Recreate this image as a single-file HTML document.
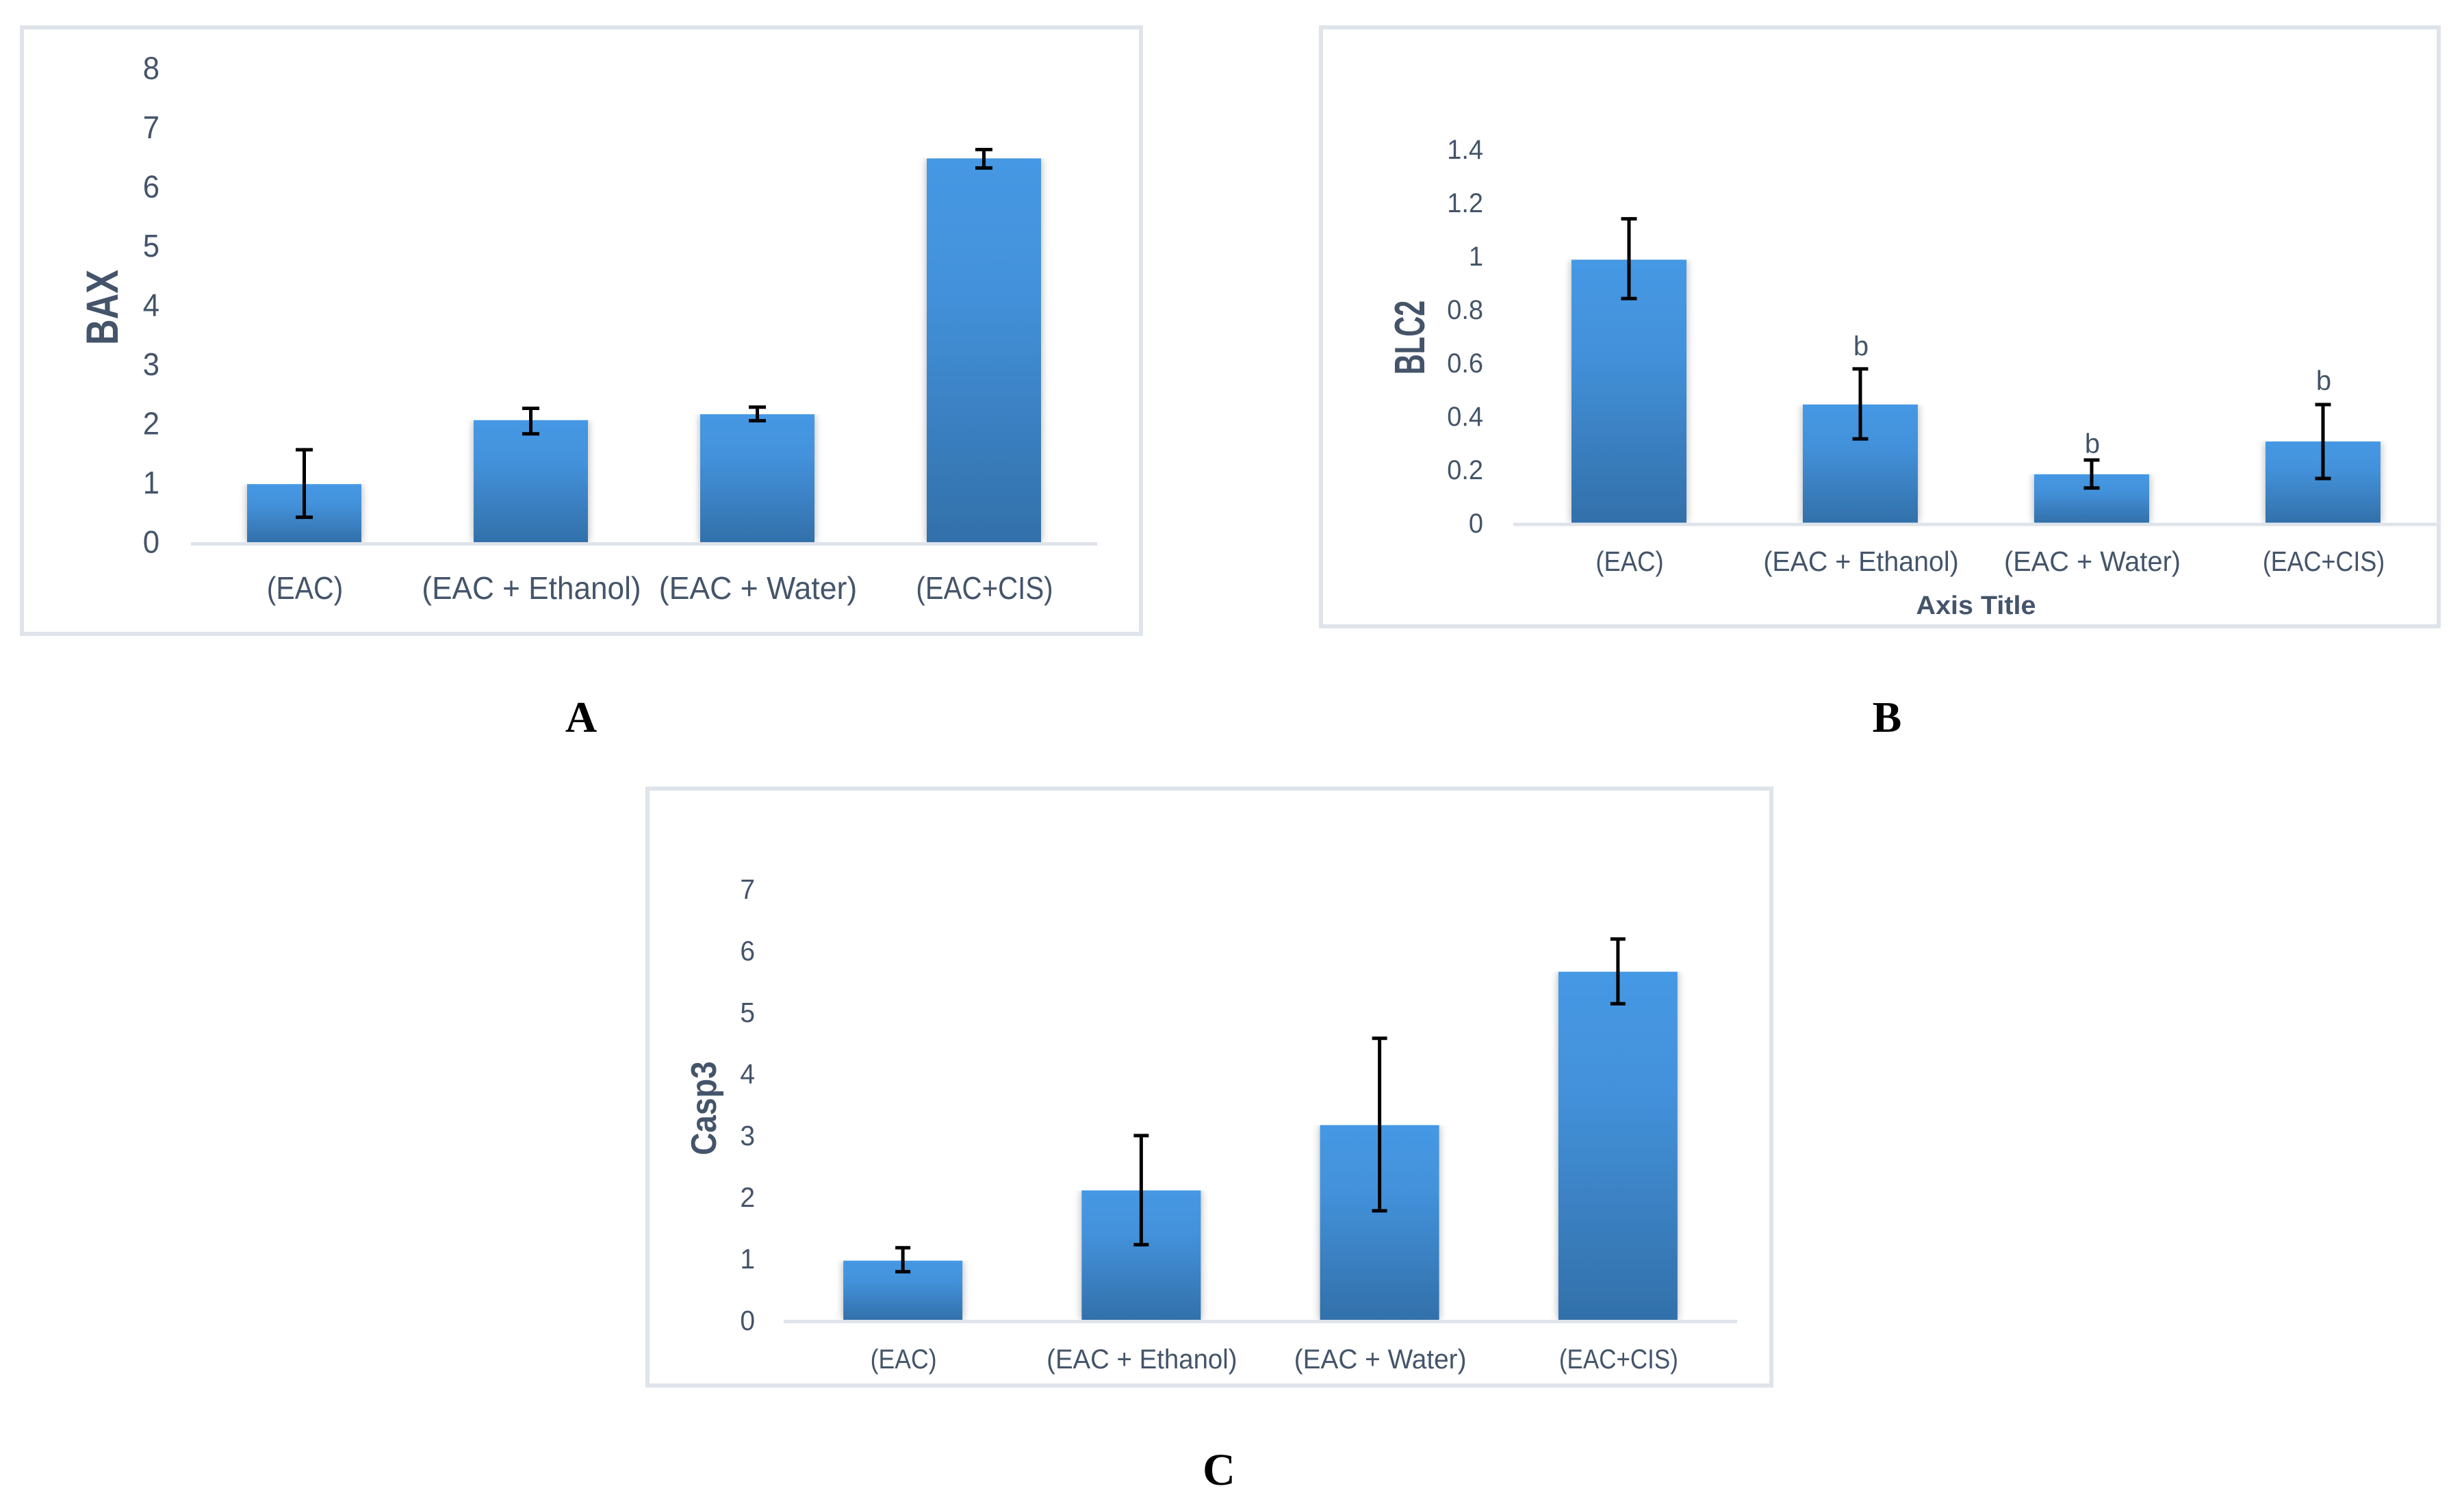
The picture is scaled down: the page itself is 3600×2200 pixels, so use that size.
<!DOCTYPE html>
<html lang="en">
<head>
<meta charset="utf-8">
<title>BAX, BLC2 and Casp3 bar charts</title>
<style>
html,body{margin:0;padding:0;background:#fff;}
body{width:3600px;height:2200px;overflow:hidden;}
svg{display:block;}
text{font-family:"Liberation Sans",sans-serif;fill:#44546a;}
.panel-letter{font-family:"Liberation Serif",serif;font-weight:bold;fill:#000;text-anchor:middle;}
</style>
</head>
<body>
<svg id="figure" xmlns="http://www.w3.org/2000/svg" width="3600" height="2200" viewBox="0 0 3600 2200">
  <defs>
    <linearGradient id="barFill" x1="0" y1="0" x2="0" y2="1">
      <stop offset="0" stop-color="#4598e4"/>
      <stop offset="0.35" stop-color="#4391da"/>
      <stop offset="1" stop-color="#3270aa"/>
    </linearGradient>
    <filter id="barShadow" x="-20%" y="0%" width="140%" height="100%">
      <feGaussianBlur in="SourceAlpha" stdDeviation="6"/>
      <feComponentTransfer><feFuncA type="linear" slope="0.32"/></feComponentTransfer>
      <feMerge><feMergeNode/><feMergeNode in="SourceGraphic"/></feMerge>
    </filter>
  </defs>
  <text class="panel-letter" x="849" y="1069" font-size="64">A</text>
  <text class="panel-letter" x="2757" y="1069" font-size="64">B</text>
  <text class="panel-letter" x="1781" y="2169" font-size="66">C</text>
</svg>
<script>
const categories = ["(EAC)", "(EAC + Ethanol)", "(EAC + Water)", "(EAC+CIS)"];

const baxValues = [0.98, 2.06, 2.16, 6.48];
const baxErrUpper = [1.56, 2.26, 2.28, 6.63];
const baxErrLower = [0.42, 1.83, 2.05, 6.32];
const baxTicks = ["0", "1", "2", "3", "4", "5", "6", "7", "8"];

const blc2Values = [0.995, 0.447, 0.183, 0.307];
const blc2ErrUpper = [1.15, 0.582, 0.237, 0.447];
const blc2ErrLower = [0.848, 0.317, 0.131, 0.167];
const blc2Ticks = ["0", "0.2", "0.4", "0.6", "0.8", "1", "1.2", "1.4"];
const blc2Letters = ["", "b", "b", "b"];
const blc2LetterLevels = [0, 0.633, 0.264, 0.503];

const casp3Values = [0.96, 2.1, 3.16, 5.65];
const casp3ErrUpper = [1.17, 2.99, 4.57, 6.18];
const casp3ErrLower = [0.78, 1.22, 1.77, 5.13];
const casp3Ticks = ["0", "1", "2", "3", "4", "5", "6", "7"];

const NS = "http://www.w3.org/2000/svg";
const fig = document.getElementById("figure");
const labelFit = {"(EAC)": 0.89, "(EAC + Ethanol)": 0.96, "(EAC + Water)": 0.97, "(EAC+CIS)": 0.875};

function make(parent, tag, attrs, content) {
  const el = document.createElementNS(NS, tag);
  for (const k in attrs) el.setAttribute(k, attrs[k]);
  if (content !== undefined) el.textContent = content;
  parent.appendChild(el);
  return el;
}

function drawChart(c) {
  const group = make(fig, "g", {});
  
  

  const frame = make(group, "rect", {x: c.frame[0], y: c.frame[1], width: c.frame[2] - c.frame[0], height: c.frame[3] - c.frame[1], fill: "#fff", stroke: "#dfe3ea", "stroke-width": 6});
  
  

  const yScale = v => c.base - v * c.unit;
  const tickScale = v => c.base - v * c.tickUnit;
  const band = (c.axisEnd - c.axisStart) / c.categories.length;
  const xScale = i => c.axisStart + band * (i + 0.5);

  c.ticks.forEach(t => {
    const label = make(group, "text", {"text-anchor": "end", transform: "translate(" + c.tickRight + "," + (tickScale(parseFloat(t)) + c.tickOffset + c.tickFont * 0.36) + ") scale(0.95,1)", "font-size": c.tickFont}, t);
    
    
  });

  c.values.forEach((v, i) => {
    const bar = make(group, "rect", {x: xScale(i) - c.barWidth / 2, y: yScale(v), width: c.barWidth, height: c.base - yScale(v), fill: "url(#barFill)", filter: "url(#barShadow)"});
    
    
  });

  const axis = make(group, "rect", {x: c.axisStart, y: c.base, width: c.axisEnd - c.axisStart, height: 5, fill: "#dfe3ea"});
  
  

  c.values.forEach((v, i) => {
    const x = xScale(i);
    const hi = yScale(c.errUpper[i]);
    const lo = yScale(c.errLower[i]);
    const d = "M" + x + " " + hi + "V" + lo + "M" + (x - c.cap / 2) + " " + hi + "H" + (x + c.cap / 2) + "M" + (x - c.cap / 2) + " " + lo + "H" + (x + c.cap / 2);
    const err = make(group, "path", {d: d, stroke: "#000", "stroke-width": 5, fill: "none"});
    
    
  });

  c.categories.forEach((name, i) => {
    const label = make(group, "text", {"text-anchor": "middle", transform: "translate(" + (xScale(i) + 1) + "," + c.catBaseline + ") scale(" + labelFit[name] + ",1)", "font-size": c.catFont}, name);
    
    
  });

  if (c.letters) {
    c.letters.forEach((letter, i) => {
      if (!letter) return;
      const mark = make(group, "text", {"text-anchor": "middle", x: xScale(i) + 1, y: yScale(c.letterLevels[i]), "font-size": 40}, letter);
      
      
    });
  }

  const title = make(group, "text", {"text-anchor": "middle", "font-weight": "bold", transform: "translate(" + c.titleX + "," + c.titleY + ") rotate(-90) scale(" + c.titleFit + ",1)", "font-size": c.titleFont}, c.title);
  
  

  if (c.xTitle) {
    const xt = make(group, "text", {"text-anchor": "middle", "font-weight": "bold", transform: "translate(" + c.xTitleX + "," + c.xTitleY + ") scale(1.04,1)", "font-size": 38}, c.xTitle);
    
    
  }
}

drawChart({
  id: "bax", title: "BAX", categories: categories, values: baxValues, errUpper: baxErrUpper, errLower: baxErrLower, ticks: baxTicks,
  frame: [32, 40, 1667, 926], base: 792, unit: 86.5, tickUnit: 86.5, axisStart: 279, axisEnd: 1603, barWidth: 167, cap: 25,
  tickRight: 233, tickFont: 46, tickOffset: -1, catBaseline: 875, catFont: 46,
  titleX: 172, titleY: 449, titleFont: 66, titleFit: 0.79
});

drawChart({
  id: "blc2", title: "BLC2", categories: categories, values: blc2Values, errUpper: blc2ErrUpper, errLower: blc2ErrLower, ticks: blc2Ticks,
  frame: [1930, 40, 3563, 915], base: 763.5, unit: 386, tickUnit: 390, axisStart: 2211, axisEnd: 3563, barWidth: 168, cap: 23,
  tickRight: 2167, tickFont: 40, tickOffset: 0, catBaseline: 834, catFont: 41,
  titleX: 2081, titleY: 493, titleFont: 62, titleFit: 0.67,
  letters: blc2Letters, letterLevels: blc2LetterLevels,
  xTitle: "Axis Title", xTitleX: 2887, xTitleY: 897
});

drawChart({
  id: "casp3", title: "Casp3", categories: categories, values: casp3Values, errUpper: casp3ErrUpper, errLower: casp3ErrLower, ticks: casp3Ticks,
  frame: [946, 1152, 2588, 2024], base: 1928, unit: 90, tickUnit: 90, axisStart: 1145, axisEnd: 2538, barWidth: 174, cap: 22,
  tickRight: 1103, tickFont: 41, tickOffset: 0, catBaseline: 1999, catFont: 40,
  titleX: 1046, titleY: 1619, titleFont: 52, titleFit: 0.88
});
</script>
</body>
</html>
